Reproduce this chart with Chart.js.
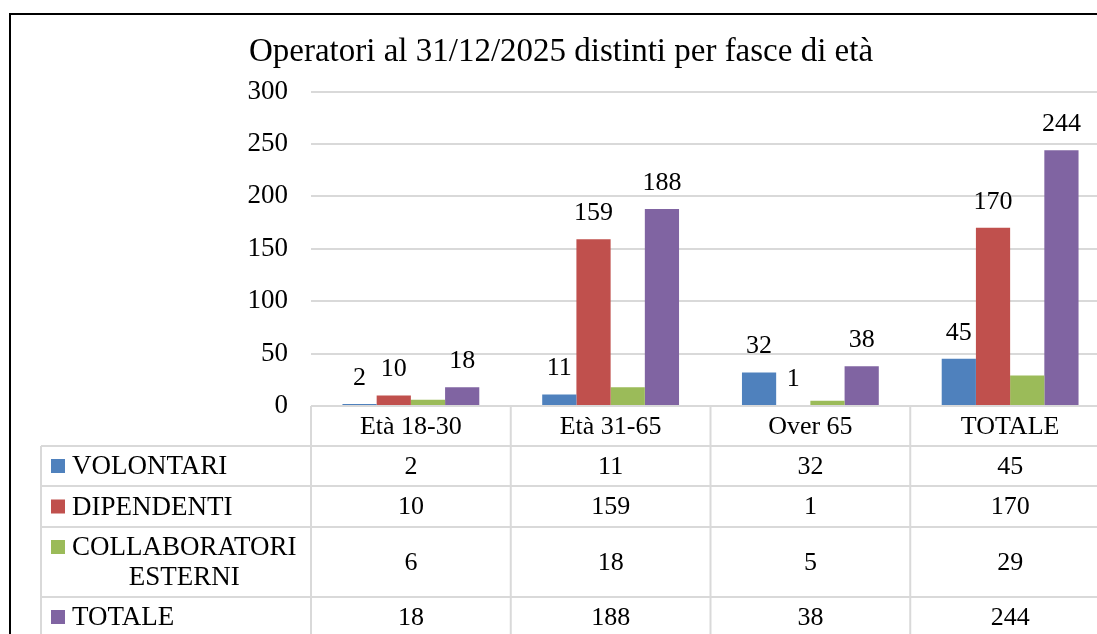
<!DOCTYPE html>
<html>
<head>
<meta charset="utf-8">
<script src="https://cdn.jsdelivr.net/npm/chart.js@4"></script>
<style>
  html, body { margin: 0; padding: 0; background: #fff; overflow: hidden; width: 1097px; height: 634px; }
  #frame { position: absolute; left: 9px; top: 13px; width: 2000px; height: 2000px;
           border-left: 2px solid #000; border-top: 2px solid #000; }
  #wrap { position: absolute; left: 0; top: 0; width: 1122px; height: 634px; }
</style>
</head>
<body>
<div id="frame"></div>
<div id="wrap"><canvas id="chart" width="1122" height="634"></canvas></div>
<script>
/* ---------- data ---------- */
const categories    = ['Età 18-30', 'Età 31-65', 'Over 65', 'TOTALE'];
const seriesNames   = ['VOLONTARI', 'DIPENDENTI', ['COLLABORATORI', 'ESTERNI'], 'TOTALE'];
const volontari     = [2, 11, 32, 45];
const dipendenti    = [10, 159, 1, 170];
const collaboratori = [6, 18, 5, 29];
const totale        = [18, 188, 38, 244];
const yMin = 0, yMax = 300, yStep = 50;

const FONT = "'Liberation Serif', 'Times New Roman', serif";
const GRID = '#D9D9D9';

/* value labels above the bars (only series flagged showValue) */
const valueLabels = {
  id: 'valueLabels',
  afterDatasetsDraw(chart) {
    const ctx = chart.ctx;
    ctx.save();
    ctx.font = '26px ' + FONT;
    ctx.fillStyle = '#000';
    ctx.textAlign = 'center';
    ctx.textBaseline = 'middle';
    chart.data.datasets.forEach((ds, i) => {
      if (!ds.showValue) return;
      chart.getDatasetMeta(i).data.forEach((bar, j) => {
        ctx.fillText(String(ds.data[j]), bar.x, bar.y - 26);
      });
    });
    ctx.restore();
  }
};

/* data table under the plot, Excel style */
const dataTable = {
  id: 'dataTable',
  afterDraw(chart, args, opts) {
    const ctx = chart.ctx;
    const xs = chart.scales.x;
    const area = chart.chartArea;
    const step = xs.getPixelForValue(1) - xs.getPixelForValue(0);
    const right = chart.width;
    const top = area.bottom;
    const rows = opts.rowHeights;

    ctx.save();
    ctx.strokeStyle = GRID;
    ctx.lineWidth = 2;
    ctx.fillStyle = '#000';
    ctx.textBaseline = 'middle';
    ctx.textAlign = 'center';

    // header row (category names)
    ctx.font = '26px ' + FONT;
    let y = top;
    categories.forEach((c, j) => {
      ctx.fillText(c, xs.getPixelForValue(j), y + rows[0] / 2 + 1);
    });
    y += rows[0];
    const headerBottom = y;

    // series rows
    const rowTops = [];
    chart.data.datasets.forEach((ds, i) => {
      const h = rows[i + 1];
      rowTops.push(y);
      const mid = y + h / 2;
      // values
      ctx.font = '26px ' + FONT;
      ds.data.forEach((v, j) => ctx.fillText(String(v), xs.getPixelForValue(j), mid + 1));
      // legend key + name
      ctx.font = '27px ' + FONT;
      const lines = Array.isArray(seriesNames[i]) ? seriesNames[i] : [seriesNames[i]];
      const lh = 30;
      const w0 = ctx.measureText(lines[0]).width;
      const textLeft = opts.left + 31;
      const firstY = mid - (lines.length - 1) * lh / 2;
      ctx.fillStyle = ds.backgroundColor;
      ctx.fillRect(opts.left + 10, firstY - 7, 14, 14);
      ctx.fillStyle = '#000';
      lines.forEach((ln, k) => {
        ctx.fillText(ln, textLeft + w0 / 2, firstY + k * lh + 1);
      });
      y += h;
    });
    const bottom = y;

    // horizontal lines
    ctx.beginPath();
    ctx.moveTo(area.left, top); ctx.lineTo(right, top);
    [headerBottom, ...rowTops.slice(1), bottom].forEach(yy => {
      ctx.moveTo(opts.left, yy); ctx.lineTo(right, yy);
    });
    // vertical lines
    ctx.moveTo(opts.left, headerBottom); ctx.lineTo(opts.left, bottom);
    for (let j = 0; j <= categories.length; j++) {
      const xx = xs.getPixelForValue(j) - step / 2;
      ctx.moveTo(xx, top); ctx.lineTo(xx, bottom);
    }
    ctx.stroke();
    ctx.restore();
  }
};

new Chart(document.getElementById('chart'), {
  type: 'bar',
  data: {
    labels: categories,
    datasets: [
      { label: 'VOLONTARI', data: volontari, backgroundColor: '#4F81BD', showValue: true },
      { label: 'DIPENDENTI', data: dipendenti, backgroundColor: '#C0504D', showValue: true },
      { label: 'COLLABORATORI ESTERNI', data: collaboratori, backgroundColor: '#9BBB59', showValue: false },
      { label: 'TOTALE', data: totale, backgroundColor: '#8064A2', showValue: true }
    ]
  },
  options: {
    responsive: false,
    animation: false,
    devicePixelRatio: 1,
    categoryPercentage: 0.685,
    barPercentage: 1.0,
    layout: { padding: { left: 12, right: 12, top: 0, bottom: 228 } },
    plugins: {
      legend: { display: false },
      tooltip: { enabled: false },
      title: {
        display: true,
        text: 'Operatori al 31/12/2025 distinti per fasce di età',
        color: '#000',
        font: { family: FONT, size: 33, weight: 'normal' },
        padding: { top: 33, bottom: 19 }
      },
      dataTable: { left: 41, rowHeights: [40, 40, 41, 70, 40] }
    },
    scales: {
      x: { display: false },
      y: {
        min: yMin, max: yMax,
        afterFit: s => { s.width = 299; },
        ticks: { stepSize: yStep, color: '#000', padding: 23, font: { family: FONT, size: 27 } },
        grid: { color: GRID, lineWidth: 2, drawTicks: false },
        border: { display: false }
      }
    }
  },
  plugins: [valueLabels, dataTable]
});
</script>
</body>
</html>
